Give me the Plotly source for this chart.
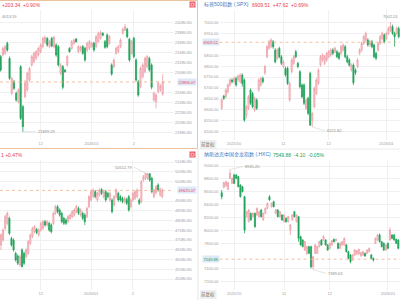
import plotly.graph_objects as go

W, H = 400, 300
def px(x): return x / W
def py(y): return 1 - y / H

# ---------------- data ----------------
# Top-left: Nasdaq composite (partial view)
tl_open = [23402,23435,23468,23668,23368,22668,22902,22668,22502,23202,
           22402,22602,22735,22935,23235,23302,23368,23435,23502,23602,
           23682,23768,23602,23768,23602,23635,23602,23068,23202,23135,
           23235,23568,23568,23668,23755,23502,23535,23602,23568,23535,
           23568,23602,23668,23602,23702,23768,23868,23702,23835,23668,
           23235,23202,23468,23502,23602,23868,23935,23948,23748,23468,
           23768,23335,22902,22802,23002,23102,23202,23368,23235,22535,
           22502,22702,22735,22655]
tl_high = [23435,23602,23635,23702,23402,23002,22935,22702,22768,23235,
           22435,22935,23102,23202,23435,23502,23535,23602,23668,23802,
           23820,23790,23735,23800,23820,23668,23635,23268,23235,23150,
           23435,23590,23735,23760,23775,23635,23620,23635,23600,23700,
           23735,23700,23700,23835,23900,23920,23890,23735,23868,23835,
           23268,23368,23602,23635,23768,23980,24060,23980,23780,23735,
           23800,23368,22935,23202,23268,23402,23435,23402,23268,22700,
           22668,22900,22850,23050]
tl_low = [23102,23402,23435,23502,22935,22635,22735,22502,22468,22135,
          21899.29,22568,22702,22902,23202,23268,23335,23402,23468,23568,
          23660,23600,23570,23590,23570,23400,23200,23035,22750,23080,
          23200,23480,23540,23640,23680,23470,23500,23440,23300,23500,
          23535,23580,23500,23570,23680,23740,23810,23560,23570,23640,
          23020,23170,23440,23470,23570,23840,23910,23770,23300,23440,
          23370,22900,22600,22768,22968,23070,23170,23100,22750,22500,
          22368,22670,22700,22620]
tl_close = [23135,23568,23602,23535,22968,22968,22768,22535,22735,22168,
            22002,22868,23068,23168,23402,23468,23502,23568,23635,23768,
            23788,23635,23702,23615,23788,23435,23235,23235,22790,23100,
            23402,23502,23702,23735,23702,23602,23602,23468,23335,23668,
            23702,23668,23535,23802,23868,23882,23830,23590,23602,23802,
            23055,23335,23568,23602,23735,23948,24000,23802,23335,23702,
            23402,22935,22635,23168,23235,23368,23402,23135,22790,22668,
            22635,22868,22815,22896.07]
tl_tick_idx = [18, 41, 60]
tl_tick_text = ["12", "2026/01", "2"]
tl_y_ticks = [24080.80, 23880.80, 23680.80, 23480.80, 23280.80, 23080.80,
              22680.80, 22480.80, 22280.80, 22080.80, 21880.80]
tl_last = 22896.07

# Top-right: S&P 500
tr_open = [6607,6663,6660,6683,6714,6737,6729,6744,6737,6729,
           6759,6737,6576,6607,6691,6675,6599,6645,6691,6714,
           6744,6770,6843,6882,6889,6912,6874,6836,6882,6843,
           6798,6790,6790,6645,6775,6813,6866,6813,6775,6714,
           6714,6607,6653,6767,6553,6614,6675,6721,6805,6828,
           6813,6828,6843,6851,6874,6866,6866,6859,6859,6874,
           6889,6843,6828,6782,6805,6782,6798,6859,6874,6904,
           6920,6920,6897,6912,6897,6859,6874,6904,6927,6943,
           6927,6950,6963,6981,6950,6950,6973]
tr_high = [6653,6668,6698,6721,6744,6744,6752,6752,6762,6767,
           6767,6744,6622,6668,6698,6683,6660,6653,6744,6752,
           6752,6805,6897,6920,6928,6920,6882,6882,6889,6851,
           6828,6798,6798,6729,6836,6851,6874,6820,6782,6721,
           6721,6653,6660,6775,6592,6706,6744,6790,6851,6859,
           6851,6866,6874,6882,6882,6889,6874,6866,6897,6904,
           6897,6851,6836,6813,6813,6790,6836,6882,6912,6943,
           6958,6928,6920,6920,6904,6866,6912,6943,6958,6950,
           6958,6981,7002.24,6990,6958,6981,6981]
tr_low = [6599,6645,6653,6675,6706,6721,6721,6706,6729,6721,
          6706,6545,6561,6599,6622,6607,6591,6599,6683,6706,
          6721,6760,6836,6874,6882,6880,6813,6828,6836,6805,
          6790,6752,6714,6637,6767,6805,6836,6790,6698,6653,
          6622,6599,6576,6526,6521.82,6607,6668,6714,6798,6820,
          6805,6820,6836,6843,6851,6859,6836,6828,6851,6866,
          6836,6813,6798,6775,6714,6760,6790,6851,6866,6897,
          6912,6889,6889,6882,6836,6828,6866,6897,6920,6904,
          6920,6943,6956,6943,6889,6943,6927]
tr_close = [6645,6653,6691,6714,6737,6729,6744,6714,6755,6759,
            6721,6553,6614,6660,6630,6614,6653,6607,6737,6744,
            6729,6798,6889,6912,6920,6889,6820,6874,6843,6813,
            6820,6759,6721,6721,6828,6843,6843,6798,6706,6660,
            6630,6645,6584,6530,6584,6698,6737,6782,6843,6851,
            6843,6859,6866,6874,6859,6882,6843,6836,6889,6897,
            6843,6820,6805,6805,6724,6770,6828,6874,6904,6935,
            6950,6897,6912,6889,6843,6836,6904,6935,6950,6912,
            6950,6973,6984,6950,6935,6973,6935]
tr_tick_idx = [6, 30, 52, 80]
tr_tick_text = ["2025/10", "11", "12", "2026/01"]
tr_y_ticks = [7000, 6950, 6850, 6800, 6750, 6700, 6650, 6600, 6550, 6500]
tr_last = 6909.51

# Bottom-left: Dow Jones
bl_open = [46825,47082,47680,47936,48193,47167,47082,46398,46261,45800,
           46569,46398,46227,46398,46911,47253,47509,47629,47338,47594,
           47680,48022,47851,47936,47851,47936,48449,48791,48620,48449,
           48193,48107,48022,48193,48278,48363,48534,48705,48363,48449,
           48363,48278,48791,49132,49303,49560,49132,49389,49679,49303,
           49560,49474,49132,49132,48876,49303,49474,49303,49218,49047,
           49167,49303,48791,49132,49218,49303,49132,49047,50158,50243,
           50243,50480,50243,49303,49508,49902,49389,49303]
bl_high = [47424,47680,48363,48534,48278,47253,47167,46484,46350,46312,
           46654,46484,46654,47082,47424,47765,47851,47700,47680,48022,
           48107,48107,48107,48022,47936,48534,48876,48876,48705,48534,
           48278,48193,48363,48449,48620,48705,48876,48791,48705,48534,
           48449,48791,49389,49645,49730,49645,49560,49730,49730,49645,
           49645,49560,49560,49218,49389,49730,49560,49389,49303,49303,
           49252,49389,49218,49560,49645,49730,49218,50158,50414,50512.79,
           50500,50500,50329,49730,49902,49987,49765,49730]
bl_low = [46569,46996,47594,47851,47338,46740,46484,45970,45800,45714,
          45680,45800,46142,46312,46825,47167,47424,47380,47253,47509,
          47594,47765,47765,47509,47424,47851,48363,48449,48278,47936,
          47851,47851,47936,48107,48193,48278,48449,48363,48278,48107,
          47851,48193,48705,49047,49218,49218,49047,49303,49389,49218,
          49047,49218,49047,48449,48791,49218,49047,49047,48962,48962,
          48876,48534,48705,49047,49132,49218,48876,48962,50072,50158,
          50158,50072,49474,49218,49423,49560,49303,49218]
bl_close = [47338,47594,48278,48449,47424,46825,46569,46056,45885,46227,
            45714,45885,46569,46996,47338,47680,47765,47458,47594,47936,
            48022,47851,48022,47594,47509,48449,48791,48534,48363,48022,
            47936,47936,48278,48363,48534,48620,48791,48449,48620,48193,
            48022,48705,49303,49560,49645,49303,49474,49645,49474,49560,
            49132,49303,49474,48534,49303,49645,49132,49132,49047,49218,
            48962,48620,49132,49474,49560,49645,48962,50072,50329,50500,
            50480,50158,49560,49645,49816,49645,49679,49625.07]
bl_tick_idx = [19, 43, 63]
bl_tick_text = ["12", "2026/01", "2"]
bl_y_ticks = [51080.80, 50580.80, 50080.80, 49080.80, 48580.80, 48080.80,
              47580.80, 47080.80, 46580.80, 46080.80, 45580.80, 45080.80]
bl_last = 49625.07

# Bottom-right: Nasdaq Golden Dragon China (.HXC)
br_open = [8585,8668,8689,8637,8808,8730,8860,8860,8834,8704,
           8678,8523,8212,8134,8263,8212,8263,8237,8212,8315,
           8160,8263,8341,8523,8367,8445,8263,8315,8212,8237,
           8134,8186,8134,8004,8160,8289,8134,8212,7900,7849,
           7693,7641,7745,7745,7433,7641,7641,7745,7849,7849,
           7849,7771,7719,7771,7859,7838,7797,7719,7771,7771,
           7771,7667,7615,7537,7615,7631,7631,7599,7615,7641,
           7641,7667,7615,7563,7797,7849,7926,7823,7797,7693,
           7797,7849,7926,7926,7859,7849]
br_high = [8627,8756,8770,8756,8945.20,8820,8880,8875,8845,8715,
           8690,8535,8300,8330,8275,8275,8275,8355,8300,8330,
           8275,8355,8430,8549,8430,8460,8330,8330,8300,8250,
           8250,8200,8225,8095,8250,8300,8250,8225,7915,7860,
           7835,7760,7760,7760,7600,7785,7760,7835,7860,7926,
           7860,7785,7810,7850,7870,7870,7810,7810,7835,7890,
           7785,7680,7630,7630,7705,7695,7715,7665,7680,7655,
           7705,7730,7630,7575,7890,7940,7952,7835,7810,7785,
           7810,8046,7940,7940,7870,7860]
br_low = [8481,8650,8678,8627,8795,8720,8720,8795,8668,8510,
          8590,7952,8200,8120,8150,8200,8040,8225,8200,8200,
          8150,8250,8330,8460,8355,8355,8250,8200,8200,8150,
          8120,8120,8120,7926,8150,8200,8120,7823,7760,7735,
          7680,7615,7630,7408,7389.63,7630,7630,7735,7760,7838,
          7760,7680,7705,7760,7810,7825,7705,7705,7760,7760,
          7655,7550,7485,7525,7600,7620,7620,7589,7600,7589,
          7630,7655,7550,7511,7785,7838,7810,7735,7680,7680,
          7705,7838,7860,7838,7785,7705]
br_close = [8523,8741,8756,8741,8886,8808,8730,8808,8678,8523,
            8601,8004,8289,8315,8160,8263,8056,8341,8289,8212,
            8263,8341,8419,8471,8419,8367,8315,8212,8289,8160,
            8237,8134,8212,8082,8237,8212,8237,7874,7771,7745,
            7823,7745,7641,7433,7589,7771,7745,7823,7771,7900,
            7771,7693,7797,7838,7823,7859,7719,7797,7823,7874,
            7667,7563,7511,7615,7693,7683,7703,7651,7667,7599,
            7693,7719,7563,7537,7874,7926,7823,7745,7693,7771,
            7719,8004,7874,7849,7797,7719]
br_tick_idx = [6, 30, 52, 80]
br_tick_text = ["2025/10", "11", "12", "2026/01"]
br_y_ticks = [9000, 8800, 8600, 8400, 8200, 8000, 7800, 7400, 7200]
br_last = 7549.88

# ---------------- styling ----------------
FONT = "Liberation Sans, Noto Sans CJK SC, sans-serif"
RED_LINE = "#ec9ca5"
RED_FILL = "#fbdde0"
GREEN = "#22a35a"
RED_TXT = "#e5404d"
GREEN_TXT = "#16a05a"
BLUE_TXT = "#3a7cc4"
GRID = "#f0f0f0"
TICK = "#a0a0a0"
LASTLINE = "#f0b08a"
LASTBG = "#dde9f7"

fig = go.Figure()

panels = [
    dict(ax="", o=tl_open, h=tl_high, l=tl_low, c=tl_close,
         xdom=(0, 174), ydom=(10, 140), yr=(21734.8, 24334.8), side="right",
         first=0.67, last=162.7, ti=tl_tick_idx, tt=tl_tick_text, yt=tl_y_ticks,
         last_v=tl_last, last_col=RED_TXT, lab_x=177),
    dict(ax="2", o=tr_open, h=tr_high, l=tr_low, c=tr_close,
         xdom=(219.5, 400), ydom=(10, 140), yr=(6461.85, 7057.25), side="left",
         first=221.7, last=398.7, ti=tr_tick_idx, tt=tr_tick_text, yt=tr_y_ticks,
         last_v=tr_last, last_col=RED_TXT, lab_x=202),
    dict(ax="3", o=bl_open, h=bl_high, l=bl_low, c=bl_close,
         xdom=(0, 174), ydom=(160, 290), yr=(44517.0, 51183.4), side="right",
         first=1.0, last=162.3, ti=bl_tick_idx, tt=bl_tick_text, yt=bl_y_ticks,
         last_v=bl_last, last_col=RED_TXT, lab_x=177),
    dict(ax="4", o=br_open, h=br_high, l=br_low, c=br_close,
         xdom=(219.5, 400), ydom=(160, 290), yr=(7070.6, 9093.4), side="left",
         first=221.7, last=398.3, ti=br_tick_idx, tt=br_tick_text, yt=br_y_ticks,
         last_v=br_last, last_col=GREEN_TXT, lab_x=202),
]

shapes = []
annotations = []
layout = {}
for p in panels:
    n = len(p["o"])
    dx = (p["last"] - p["first"]) / (n - 1)
    xr = [(p["xdom"][0] - p["first"]) / dx, (p["xdom"][1] - p["first"]) / dx]
    xa = "xaxis" + p["ax"]
    ya = "yaxis" + p["ax"]
    xid = "x" + p["ax"]
    yid = "y" + p["ax"]
    fig.add_trace(go.Candlestick(
        x=list(range(n)), open=p["o"], high=p["h"], low=p["l"], close=p["c"],
        xaxis=xid, yaxis=yid, whiskerwidth=0, showlegend=False, hoverinfo="skip",
        increasing=dict(line=dict(color=RED_LINE, width=0.8), fillcolor=RED_FILL),
        decreasing=dict(line=dict(color=GREEN, width=0.8), fillcolor=GREEN),
    ))
    layout[xa] = dict(domain=[px(p["xdom"][0]), px(p["xdom"][1])], range=xr,
                      anchor=yid, showgrid=True, gridcolor=GRID, gridwidth=1,
                      zeroline=False, showline=False, ticks="",
                      tickvals=p["ti"], ticktext=p["tt"],
                      tickfont=dict(size=4, color=TICK, family=FONT),
                      rangeslider=dict(visible=False), fixedrange=True)
    layout[ya] = dict(domain=[py(p["ydom"][1]), py(p["ydom"][0])], range=list(p["yr"]),
                      anchor=xid, side=p["side"], showgrid=True, gridcolor=GRID,
                      zeroline=False, showline=False, ticks="",
                      tickvals=p["yt"], ticktext=["{:.2f}".format(v) for v in p["yt"]],
                      tickfont=dict(size=4, color=TICK, family=FONT), fixedrange=True)
    shapes.append(dict(type="line", xref=xid + " domain", yref=yid, x0=0, x1=1,
                       y0=p["last_v"], y1=p["last_v"],
                       line=dict(color=LASTLINE, width=0.8, dash="dot")))
    annotations.append(dict(xref="paper", yref=yid, x=px(p["lab_x"]), y=p["last_v"],
                            xanchor="left", yanchor="middle", showarrow=False,
                            text="{:.2f}".format(p["last_v"]), bgcolor=LASTBG, borderpad=0.5,
                            font=dict(size=4, color=p["last_col"], family=FONT)))

# extreme-value labels
ext = [
    ("", 10, 21899.29, "21899.29", "left", 13, 0),
    ("2", 44, 6521.82, "6521.82", "left", 13, 4),
    ("3", 69, 50512.79, "50512.79", "right", -12, -6),
    ("4", 4, 8945.20, "8945.20", "left", 13, -3),
    ("4", 44, 7389.63, "7389.63", "left", 13, 4),
]
for axn, i, v, t, anc, axo, ayo in ext:
    annotations.append(dict(xref="x" + axn, yref="y" + axn, x=i, y=v, text=t,
                            showarrow=True, arrowhead=0, arrowwidth=0.5, arrowcolor="#c8c8c8",
                            ax=axo, ay=ayo, xanchor=anc, yanchor="middle",
                            font=dict(size=4, color="#8c8c8c", family=FONT)))
annotations.append(dict(xref="paper", yref="paper", x=px(399.5), y=py(17), text="7002.24",
                        showarrow=False, xanchor="right", yanchor="middle",
                        font=dict(size=4, color="#8c8c8c", family=FONT)))
annotations.append(dict(xref="paper", yref="paper", x=px(0), y=py(16), text="4013.59",
                        showarrow=False, xanchor="left", yanchor="middle",
                        font=dict(size=4, color="#8c8c8c", family=FONT)))

def title(x, y, text, color):
    annotations.append(dict(xref="paper", yref="paper", x=px(x), y=py(y), text=text,
                            showarrow=False, xanchor="left", yanchor="middle",
                            font=dict(size=5, color=color, family=FONT)))
title(-0.5, 4.5, "+203.34  +0.90%", RED_TXT)
title(-1, 154.5, "1 +0.47%", RED_TXT)
title(201.5, 4.5, "标普500指数 (.SPX)", BLUE_TXT)
title(250, 4.5, "6909.51  +47.62  +0.69%", RED_TXT)
title(201.5, 154.5, "纳斯达克中国金龙指数 (.HXC)", BLUE_TXT)
title(270.5, 154.5, "7549.88  -4.10  -0.05%", GREEN_TXT)

for yc in (144.5, 294.5):
    shapes.append(dict(type="rect", xref="paper", yref="paper",
                       x0=px(200), x1=px(216.5), y0=py(yc + 4.5), y1=py(yc - 4.5),
                       fillcolor="#efefef", line=dict(width=0)))
    annotations.append(dict(xref="paper", yref="paper", x=px(208.2), y=py(yc), text="前复权",
                            showarrow=False, xanchor="center", yanchor="middle",
                            font=dict(size=4.5, color="#707070", family=FONT)))

for yc in (4.5, 154.5):
    shapes.append(dict(type="rect", xref="paper", yref="paper",
                       x0=px(189.5), x1=px(195.5), y0=py(yc + 3), y1=py(yc - 3),
                       fillcolor="#ee5a66", line=dict(width=0)))
    shapes.append(dict(type="rect", xref="paper", yref="paper",
                       x0=px(191), x1=px(194), y0=py(yc + 1.5), y1=py(yc - 1.2),
                       fillcolor="rgba(0,0,0,0)", line=dict(color="white", width=0.6)))

shapes.append(dict(type="line", xref="paper", yref="paper", x0=px(198), x1=px(198),
                   y0=py(149), y1=py(300), line=dict(color="#e4e4e4", width=1)))
shapes.append(dict(type="line", xref="paper", yref="paper", x0=px(198), x1=px(400),
                   y0=py(149), y1=py(149), line=dict(color="#ececec", width=1)))
shapes.append(dict(type="rect", xref="paper", yref="paper", x0=px(-1), x1=px(197.5),
                   y0=py(148.5), y1=py(0.5), fillcolor="rgba(0,0,0,0)",
                   line=dict(color="#ebc49e", width=1)))

fig.update_layout(width=W, height=H, margin=dict(l=0, r=0, t=0, b=0),
                  paper_bgcolor="white", plot_bgcolor="white",
                  boxgap=0.25, showlegend=False,
                  shapes=shapes, annotations=annotations, **layout)
fig.write_html("out.html")
